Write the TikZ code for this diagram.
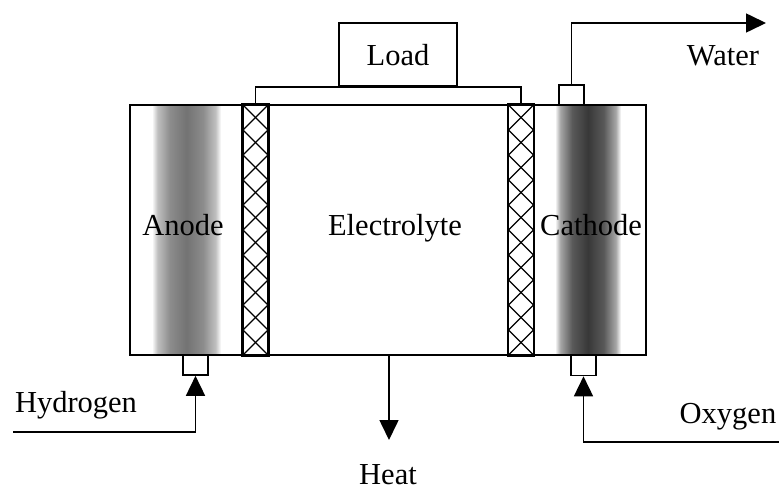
\documentclass[tikz,border=0pt]{standalone}
\usepackage{fontspec}
\setmainfont{Liberation Serif}
\usetikzlibrary{arrows.meta}
\pgfdeclarehorizontalshading{bandA}{100bp}{color(0bp)=(white); color(25bp)=(white); color(29bp)=(black!25); color(38bp)=(black!45); color(50bp)=(black!55); color(62bp)=(black!45); color(71bp)=(black!25); color(75bp)=(white); color(100bp)=(white)}
\pgfdeclarehorizontalshading{bandC}{100bp}{color(0bp)=(white); color(25bp)=(white); color(29bp)=(black!35); color(38bp)=(black!65); color(50bp)=(black!78); color(62bp)=(black!65); color(71bp)=(black!35); color(75bp)=(white); color(100bp)=(white)}
\tikzset{
  lw/.style={line width=1.6pt},
  boxed/.style={draw, lw, inner sep=0pt},
  lbl/.style={font=\fontsize{30.5}{36}\selectfont, inner sep=0pt, anchor=base},
  flow/.style={lw, -{Triangle[length=20pt,width=19pt]}},
  hatchline/.style={line width=1.2pt},
}
\begin{document}
\begin{tikzpicture}[x=1pt,y=-1pt]
\useasboundingbox (0,0) rectangle (779,490);
% electrode bands
\shade[shading=bandA] (152,106) rectangle (221,354);
\shade[shading=bandC] (555,106) rectangle (621,354);
% cell
\node[boxed, minimum width=516pt, minimum height=250pt] (cell) at (388,230) {};
% separators (hatched)
\node[boxed, minimum width=25pt, minimum height=250pt] (lstrip) at (255.5,230) {};
\node[boxed, minimum width=25pt, minimum height=250pt] (rstrip) at (521,230) {};
\begin{scope}
  \clip (243,105) rectangle (268,355);
  \foreach \i in {0,...,9}{
    \draw[hatchline] (243,105+25*\i) -- (268,130+25*\i);
    \draw[hatchline] (268,105+25*\i) -- (243,130+25*\i);
  }
\end{scope}
\begin{scope}
  \clip (508.5,105) rectangle (533.5,355);
  \foreach \i in {0,...,9}{
    \draw[hatchline] (508.5,105+25*\i) -- (533.5,130+25*\i);
    \draw[hatchline] (533.5,105+25*\i) -- (508.5,130+25*\i);
  }
\end{scope}
\draw[lw] (lstrip.south west) rectangle (lstrip.north east);
\draw[lw] (rstrip.south west) rectangle (rstrip.north east);
% load
\node[boxed, fill=white, minimum width=118pt, minimum height=63pt] (load) at (398,54.5) {};
\node[lbl] (loadt) at (398,65) {Load};
\draw[lw] (lstrip.north) |- (load.south west) -| (rstrip.north);
% ports
\node[boxed, minimum width=25pt, minimum height=20pt] (wport) at (571.5,95) {};
\node[boxed, minimum width=25pt, minimum height=20pt] (aport) at (195.5,365) {};
\node[boxed, minimum width=25pt, minimum height=20pt] (cport) at (583.5,365.5) {};
% flows
\coordinate (wend) at (766,23);
\draw[flow] (wport.north) |- (wend);
\coordinate (hstart) at (13,432);
\draw[flow] (hstart) -| (aport.south);
\coordinate (ostart) at (779,442);
\draw[flow] (ostart) -| (cport.south);
\coordinate (heatstart) at (389,355);
\coordinate (heatend) at (389,440);
\draw[flow] (heatstart) -- (heatend);
% labels
\node[lbl] (anode) at (183,235) {Anode};
\node[lbl] (elec) at (395,235) {Electrolyte};
\node[lbl] (cath) at (591,235) {Cathode};
\node[lbl] (water) at (723,65) {Water};
\node[lbl] (hyd) at (76,412) {Hydrogen};
\node[lbl] (oxy) at (728,423) {Oxygen};
\node[lbl] (heat) at (388,484) {Heat};
\end{tikzpicture}
\end{document}
